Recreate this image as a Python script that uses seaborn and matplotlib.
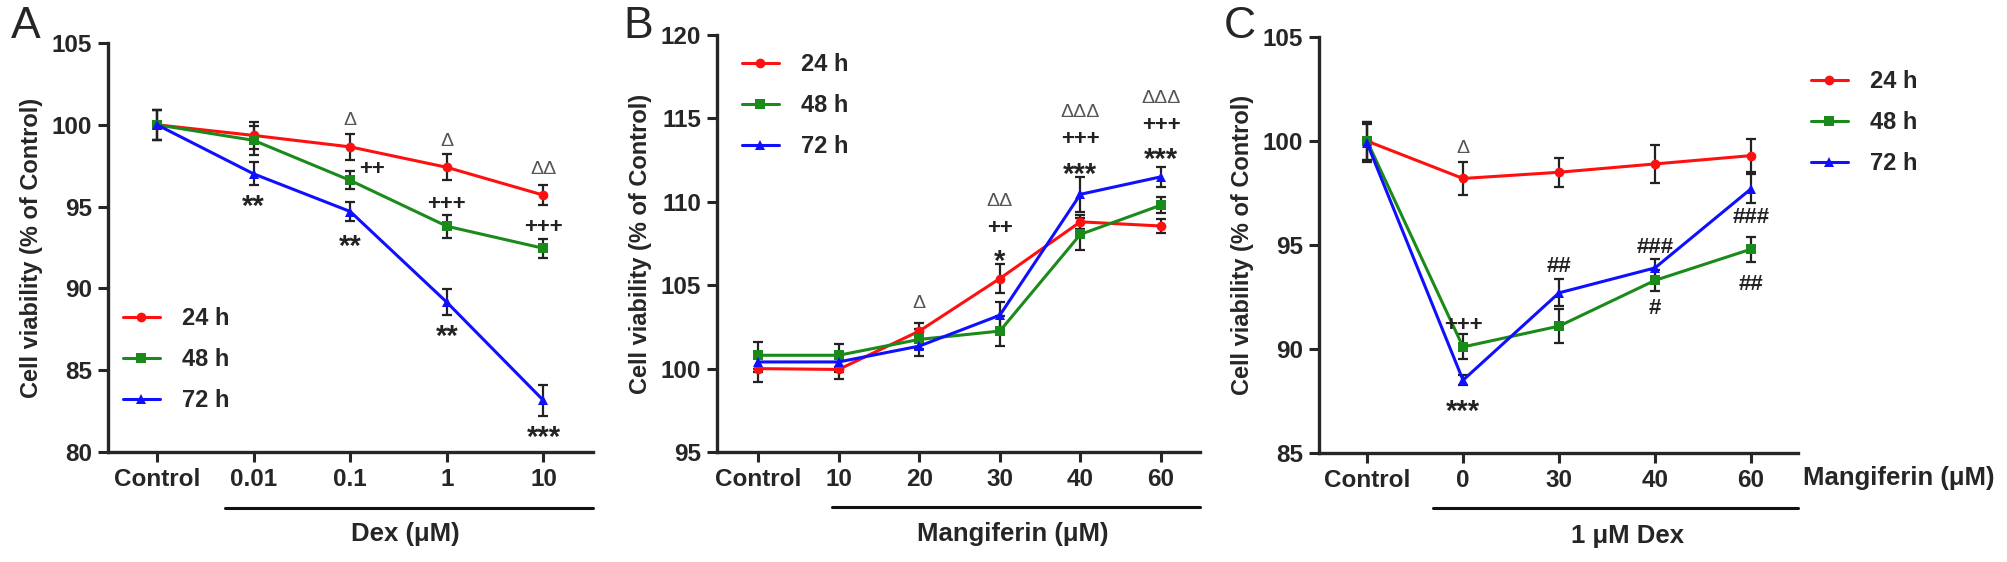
import numpy as np
import pandas as pd
import matplotlib
matplotlib.use('Agg')
import matplotlib.pyplot as plt
import seaborn as sns

times = ['24 h', '48 h', '72 h']
colors = {'24 h': '#ff1010', '48 h': '#1a8a1a', '72 h': '#1010ff'}
marks = {'24 h': 'o', '48 h': 's', '72 h': '^'}

# panel A: Dex dose
a_labels = ['Control', '0.01', '0.1', '1', '10']
a_24 = [100.0, 99.35, 98.65, 97.4, 95.7]
a_48 = [100.0, 99.05, 96.6, 93.8, 92.45]
a_72 = [100.0, 97.0, 94.7, 89.15, 83.15]
a_24_err = [0.9, 0.85, 0.8, 0.8, 0.6]
a_48_err = [0.9, 0.9, 0.55, 0.7, 0.6]
a_72_err = [0.9, 0.7, 0.6, 0.8, 0.95]

# panel B: mangiferin dose
b_labels = ['Control', '10', '20', '30', '40', '60']
b_24 = [100.0, 99.95, 102.25, 105.4, 108.8, 108.55]
b_48 = [100.8, 100.8, 101.75, 102.25, 108.05, 109.8]
b_72 = [100.4, 100.4, 101.35, 103.2, 110.45, 111.5]
b_24_err = [0.8, 0.6, 0.5, 0.85, 0.4, 0.4]
b_48_err = [0.8, 0.7, 0.6, 0.9, 0.95, 0.5]
b_72_err = [0.6, 0.6, 0.6, 0.8, 1.05, 0.6]

# panel C: mangiferin + 1 uM Dex
c_labels = ['Control', '0', '30', '40', '60']
c_24 = [100.0, 98.2, 98.5, 98.9, 99.3]
c_48 = [100.0, 90.1, 91.1, 93.3, 94.8]
c_72 = [99.9, 88.5, 92.7, 93.9, 97.7]
c_24_err = [0.9, 0.8, 0.7, 0.9, 0.8]
c_48_err = [0.9, 0.6, 0.8, 0.5, 0.6]
c_72_err = [0.9, 0.25, 0.65, 0.45, 0.7]

# significance labels: (x index, y, text)
a_notes = [(1, 95.55, '**'), (2, 100.25, '\u0394'), (2.23, 97.25, '++'), (2, 93.1, '**'),
           (3, 99.0, '\u0394'), (3, 95.1, '+++'), (3, 87.6, '**'),
           (4, 97.25, '\u0394\u0394'), (4, 93.7, '+++'), (4, 81.45, '***')]
b_notes = [(2, 103.9, '\u0394'), (3, 110.0, '\u0394\u0394'), (3, 108.4, '++'), (3, 107.0, '*'),
           (4, 115.35, '\u0394\u0394\u0394'), (4, 113.75, '+++'), (4, 112.2, '***'),
           (5, 116.2, '\u0394\u0394\u0394'), (5, 114.6, '+++'), (5, 113.1, '***')]
c_notes = [(1, 99.65, '\u0394'), (1, 91.15, '+++'), (1, 87.45, '***'), (2, 93.95, '##'),
           (3, 94.9, '###'), (3, 91.95, '#'), (4, 96.3, '###'), (4, 93.1, '##')]

sns.set_style('ticks')
plt.rcParams['font.family'] = ['Liberation Sans', 'DejaVu Sans']
plt.rcParams['font.weight'] = 'bold'

fig = plt.figure(figsize=(20.08, 5.62), dpi=100)
axA = fig.add_axes([0.0538, 0.1957, 0.2415, 0.7278])
axB = fig.add_axes([0.3571, 0.1957, 0.2405, 0.742])
axC = fig.add_axes([0.6569, 0.1940, 0.2385, 0.740])


def panel(ax, labels, vals, errs, notes, ylim, yticks, xlim):
    rows = []
    for t, v in zip(times, vals):
        for i, y in enumerate(v):
            rows.append({'x': i, 'value': y, 'time': t})
    df = pd.DataFrame(rows)
    for t, v, e in zip(times, vals, errs):
        ax.errorbar(range(len(v)), v, yerr=e, fmt='none', ecolor='#222222',
                    elinewidth=1.6, capsize=3.8, capthick=1.6, zorder=2)
    sns.lineplot(data=df, x='x', y='value', hue='time', style='time', palette=colors,
                 markers=marks, dashes=False, markersize=7, linewidth=2.2,
                 markeredgewidth=0, ax=ax, zorder=3)
    for x, y, s in notes:
        if '\u0394' in s:
            ax.text(x, y, s, ha='center', va='center', fontsize=14, color='#555555',
                    fontweight='normal')
        elif '*' in s:
            ax.annotate(s, (x, y), xytext=(0, -7), textcoords='offset points',
                        ha='center', va='center', fontsize=21, color='#222222')
        else:
            ax.text(x, y, s, ha='center', va='center', fontsize=16, color='#222222')
    ax.set_xlim(*xlim)
    ax.set_ylim(*ylim)
    ax.set_yticks(yticks)
    ax.set_xticks(range(len(labels)))
    ax.set_xticklabels(labels)
    ax.tick_params(axis='both', width=2.2, length=7.5, labelsize=17.5, pad=4)
    for lab in ax.get_xticklabels() + ax.get_yticklabels():
        lab.set_fontweight('bold')
    for sp in ['left', 'bottom']:
        ax.spines[sp].set_linewidth(2.4)
    sns.despine(ax=ax)
    ax.set_xlabel('')
    ax.set_ylabel('Cell viability (% of Control)', fontsize=17, fontweight='bold', labelpad=6)
    ax.get_legend().remove()


panel(axA, a_labels, [a_24, a_48, a_72], [a_24_err, a_48_err, a_72_err], a_notes,
      (80, 105), [80, 85, 90, 95, 100, 105], (-0.507, 4.512))
panel(axB, b_labels, [b_24, b_48, b_72], [b_24_err, b_48_err, b_72_err], b_notes,
      (95, 120), [95, 100, 105, 110, 115, 120], (-0.509, 5.484))
panel(axC, c_labels, [c_24, c_48, c_72], [c_24_err, c_48_err, c_72_err], c_notes,
      (85, 105), [85, 90, 95, 100, 105], (-0.5, 4.49))

# legends, anchored in figure coordinates
for ax, anchor in [(axA, (0.0613, 0.4537)), (axB, (0.3695, 0.9057)), (axC, (0.9019, 0.8754))]:
    h, l = ax.get_legend_handles_labels()
    ax.legend(h, l, loc='upper left', bbox_to_anchor=anchor, bbox_transform=fig.transFigure,
              frameon=False, borderpad=0, borderaxespad=0, handlelength=1.55,
              labelspacing=0.76, handletextpad=0.95,
              prop={'weight': 'bold', 'size': 17})

# group brackets under the x axis
for ax, x0, x1, ybr, ytxt, text, xc in [
        (axA, 0.704, 4.512, -0.137, -0.200, 'Dex (\u03bcM)', 2.567),
        (axB, 0.918, 5.484, -0.132, -0.197, 'Mangiferin (\u03bcM)', 3.16),
        (axC, 0.6875, 4.49, -0.132, -0.200, '1 \u03bcM Dex', 2.71)]:
    tr = ax.get_xaxis_transform()
    ax.plot([x0, x1], [ybr, ybr], color='#111111', lw=2.2, transform=tr, clip_on=False)
    ax.text(xc, ytxt, text, transform=tr, ha='center', va='center', fontsize=18.5,
            fontweight='bold')
axC.text(4.54, -0.06, 'Mangiferin (\u03bcM)', transform=axC.get_xaxis_transform(),
         ha='left', va='center', fontsize=18.5, fontweight='bold')

for x, s in [(0.0055, 'A'), (0.3105, 'B'), (0.6095, 'C')]:
    fig.text(x, 0.953, s, fontsize=32, fontweight='normal', va='center')

fig.savefig('out.png', dpi=100)
